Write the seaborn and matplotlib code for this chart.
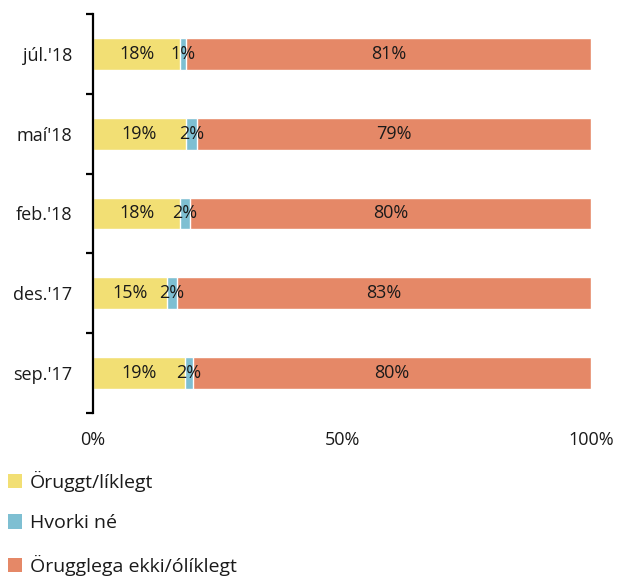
import matplotlib
matplotlib.use("Agg")
import matplotlib.pyplot as plt
from matplotlib.patches import Patch
import numpy as np
import pandas as pd
import seaborn as sns

periods = ["júl.'18", "maí'18", "feb.'18", "des.'17", "sep.'17"]
likely = [17.5, 18.6, 17.5, 14.8, 18.5]
neither = [1.2, 2.3, 2.0, 2.0, 1.6]
unlikely = [81.3, 79.1, 80.5, 83.2, 79.9]
likely_lbl = ["18%", "19%", "18%", "15%", "19%"]
neither_lbl = ["1%", "2%", "2%", "2%", "2%"]
unlikely_lbl = ["81%", "79%", "80%", "83%", "80%"]
series = ["Öruggt/líklegt", "Hvorki né", "Örugglega ekki/ólíklegt"]
colors = ["#f2df74", "#7ebfd2", "#e58867"]

sns.set_style("white")
plt.rcParams['font.family'] = ['Open Sans', 'DejaVu Sans']
plt.rcParams['font.size'] = 13

df = pd.DataFrame({"period": periods, "likely": likely,
                   "neither": neither, "unlikely": unlikely})
df["c1"] = df.likely
df["c2"] = df.likely + df.neither
df["c3"] = df.c2 + df.unlikely

fig = plt.figure(figsize=(6.3, 5.77), dpi=100)
ax = fig.add_axes([93/630, 1 - 413/577, 498/630, 399/577])

# stacked by layering cumulative sums, widest first
sns.barplot(data=df, x="c3", y="period", color=colors[2], width=0.4,
            saturation=1, orient="h", ax=ax)
sns.barplot(data=df, x="c2", y="period", color=colors[1], width=0.4,
            saturation=1, orient="h", ax=ax)
sns.barplot(data=df, x="c1", y="period", color=colors[0], width=0.4,
            saturation=1, orient="h", ax=ax)

for i in range(len(periods)):
    starts = [0, df.c1[i], df.c2[i]]
    widths = [likely[i], neither[i], unlikely[i]]
    lbls = [likely_lbl[i], neither_lbl[i], unlikely_lbl[i]]
    for s, w, t in zip(starts, widths, lbls):
        ax.text(s + w / 2, i, t, ha="center", va="center", color="#1a1a1a")

ax.set_xlim(0, 100)
ax.set_ylim(4.5, -0.5)
ax.set_xticks([0, 50, 100])
ax.set_xticklabels(["0%", "50%", "100%"])
ax.set_xlabel("")
ax.set_ylabel("")
ax.set_yticks(np.arange(-0.5, 5, 1), minor=True)
ax.tick_params(axis="x", length=0, pad=13, colors="#1a1a1a")
ax.tick_params(axis="y", which="major", length=0, pad=15, colors="#1a1a1a")
ax.tick_params(axis="y", which="minor", length=5, width=1.6, color="black",
               direction="out", left=True)
for sp in ["top", "right", "bottom"]:
    ax.spines[sp].set_visible(False)
ax.spines["left"].set_linewidth(1.6)
ax.spines["left"].set_color("black")

handles = [Patch(facecolor=c, edgecolor="none") for c in colors]
fig.legend(handles, series, loc="upper left", bbox_to_anchor=(0.0, 1 - 463/577),
           frameon=False, fontsize=14, handlelength=0.75, handleheight=0.75,
           handletextpad=0.4, labelspacing=1.15, borderaxespad=0,
           labelcolor="#1a1a1a")

fig.savefig("out.png", dpi=100)
